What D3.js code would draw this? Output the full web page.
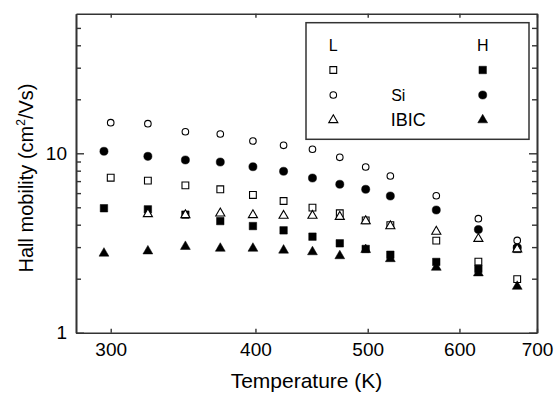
<!DOCTYPE html>
<html>
<head>
<meta charset="utf-8">
<script src="https://cdn.jsdelivr.net/npm/d3@7"></script>
<style>
  body { margin: 0; background: #fff; }
  svg { display: block; font-family: "Liberation Sans", Arial, sans-serif; }
</style>
</head>
<body>
<svg width="560" height="394"></svg>
<script>
// temperatures (K)
const tempL = [300, 323, 348, 373, 398, 423, 448, 473, 498, 523, 573, 623, 673];
const tempH = [296, 323, 348, 373, 398, 423, 448, 473, 498, 523, 573, 623, 673];
const tempIbicL = [323, 348, 373, 398, 423, 448, 473, 498, 523, 573, 623, 673];

// Hall mobility (cm2/Vs)
const lSquare = [7.31, 7.04, 6.63, 6.30, 5.86, 5.42, 4.98, 4.63, 4.23, 3.98, 3.26, 2.49, 1.99];
const hSquare = [4.94, 4.87, 4.55, 4.19, 3.93, 3.72, 3.43, 3.15, 2.93, 2.72, 2.48, 2.27, 2.93];
const lSi     = [14.81, 14.62, 13.19, 12.81, 11.71, 11.08, 10.53, 9.50, 8.39, 7.47, 5.80, 4.32, 3.27];
const hSi     = [10.26, 9.62, 9.18, 8.94, 8.42, 7.94, 7.28, 6.72, 6.30, 5.78, 4.83, 3.76, 2.98];
const lIbic   = [4.59, 4.53, 4.63, 4.53, 4.49, 4.49, 4.43, 4.19, 3.93, 3.66, 3.34, 2.92];
const hIbic   = [2.77, 2.85, 3.02, 2.95, 2.95, 2.88, 2.82, 2.68, 2.90, 2.58, 2.31, 2.15, 1.81];

const xTicks = [300, 400, 500, 600, 700];
const yMajor = [1, 10];
const yMinor = [2, 3, 4, 5, 6, 7, 8, 9, 20, 30, 40, 50];

const svg = d3.select("svg");
const plotLeft = 76, plotRight = 537, plotTop = 13.7, plotBottom = 332.7;

const x = d3.scaleLog().domain([280, 700]).range([plotLeft, plotRight]);
const y = d3.scaleLog().domain([1, 60]).range([plotBottom, plotTop]);

const axisColor = "#333";

// series, drawn in this order (later ones cover earlier ones)
const series = [
  {t: tempL, v: lSquare, shape: d3.symbolSquare, size: 46, filled: false},
  {t: tempH, v: hSquare, shape: d3.symbolSquare, size: 56, filled: true},
  {t: tempH, v: hSi, shape: d3.symbolCircle, size: 52, filled: true},
  {t: tempH, v: hIbic, shape: d3.symbolTriangle, size: 42, filled: true},
  {t: tempIbicL, v: lIbic, shape: d3.symbolTriangle, size: 36, filled: false},
  {t: tempL, v: lSi, shape: d3.symbolCircle, size: 34, filled: false},
];

series.forEach(s => {
  svg.append("g").selectAll("path")
    .data(s.v.map((v, i) => [s.t[i], v]))
    .join("path")
    .attr("transform", d => `translate(${x(d[0])},${y(d[1])})`)
    .attr("d", d3.symbol().type(s.shape).size(s.size))
    .attr("fill", s.filled ? "#000" : "#fff")
    .attr("stroke", "#000")
    .attr("stroke-width", s.filled ? 0.5 : 1.1);
});

// axes
function styleAxis(g) {
  g.select(".domain").attr("stroke", axisColor).attr("stroke-width", 1.6);
  g.selectAll(".tick line").attr("stroke", axisColor).attr("stroke-width", 1.4);
  g.selectAll("text").attr("fill", "#000").style("font-family", "Liberation Sans, Arial, sans-serif");
}

svg.append("g")
  .attr("transform", `translate(0,${plotBottom})`)
  .call(d3.axisBottom(x).tickValues(xTicks).tickFormat(d3.format("d"))
    .tickSizeInner(-4).tickSizeOuter(0).tickPadding(10))
  .call(styleAxis)
  .selectAll("text").attr("font-size", 19);

svg.append("g")
  .attr("transform", `translate(0,${plotTop})`)
  .call(d3.axisTop(x).tickValues(xTicks).tickFormat("")
    .tickSizeInner(-4).tickSizeOuter(0))
  .call(styleAxis);

svg.append("g")
  .attr("transform", `translate(${plotLeft},0)`)
  .call(d3.axisLeft(y).tickValues(yMajor).tickFormat(d3.format("d"))
    .tickSizeInner(-8).tickSizeOuter(0).tickPadding(9))
  .call(styleAxis)
  .selectAll("text").attr("font-size", 19);

svg.append("g")
  .attr("transform", `translate(${plotLeft},0)`)
  .call(d3.axisLeft(y).tickValues(yMinor).tickFormat("")
    .tickSizeInner(-5).tickSizeOuter(0))
  .call(styleAxis);

svg.append("g")
  .attr("transform", `translate(${plotRight},0)`)
  .call(d3.axisRight(y).tickValues(yMajor).tickFormat("")
    .tickSizeInner(-8).tickSizeOuter(0))
  .call(styleAxis);

svg.append("g")
  .attr("transform", `translate(${plotRight},0)`)
  .call(d3.axisRight(y).tickValues(yMinor).tickFormat("")
    .tickSizeInner(-5).tickSizeOuter(0))
  .call(styleAxis);

// axis titles
svg.append("text")
  .attr("x", (plotLeft + plotRight) / 2)
  .attr("y", 388)
  .attr("text-anchor", "middle")
  .attr("font-size", 21)
  .text("Temperature (K)");

const yt = svg.append("text")
  .attr("transform", "rotate(-90)")
  .attr("x", -178)
  .attr("y", 33)
  .attr("text-anchor", "middle")
  .attr("font-size", 20);
yt.append("tspan").text("Hall mobility (cm");
yt.append("tspan").attr("font-size", 12).attr("dy", -8).text("2");
yt.append("tspan").attr("dy", 8).text("/Vs)");

// legend
const legend = svg.append("g");
legend.append("rect")
  .attr("x", 306).attr("y", 22.7)
  .attr("width", 223).attr("height", 116.6)
  .attr("fill", "#fff")
  .attr("stroke", axisColor).attr("stroke-width", 1.5);

const legCols = [333.3, 482.7];
const legRows = [70, 95, 120];
const legShapes = [d3.symbolSquare, d3.symbolCircle, d3.symbolTriangle];
const legNames = ["", "Si", "IBIC"];
const legHead = ["L", "H"];

legHead.forEach((h, i) => {
  legend.append("text")
    .attr("x", legCols[i]).attr("y", 51)
    .attr("text-anchor", "middle")
    .attr("font-size", 16)
    .text(h);
});

legShapes.forEach((shape, r) => {
  legCols.forEach((cx, c) => {
    legend.append("path")
      .attr("transform", `translate(${cx},${legRows[r]})`)
      .attr("d", d3.symbol().type(shape).size(c ? [56, 52, 42][r] : [46, 34, 36][r]))
      .attr("fill", c ? "#000" : "#fff")
      .attr("stroke", "#000")
      .attr("stroke-width", c ? 0.5 : 1.1);
  });
  if (legNames[r]) {
    legend.append("text")
      .attr("x", r === 1 ? 398.3 : 408.3)
      .attr("y", legRows[r] + 6)
      .attr("text-anchor", "middle")
      .attr("font-size", r === 1 ? 16 : 18)
      .text(legNames[r]);
  }
});
</script>
</body>
</html>
